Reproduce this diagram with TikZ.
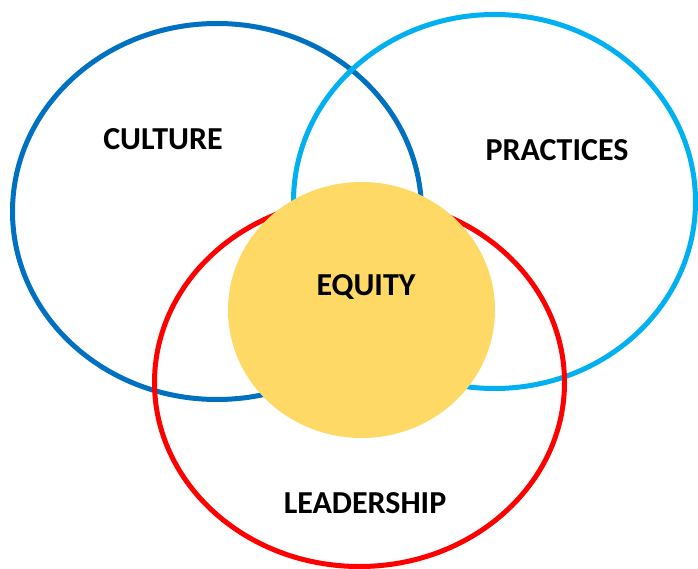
\documentclass[tikz,border=0pt]{standalone}
\usepackage{fontspec}
\setmainfont{Carlito}
\definecolor{cblue}{HTML}{0070C0}
\definecolor{clight}{HTML}{00B0F0}
\definecolor{cred}{HTML}{FF0000}
\definecolor{cyell}{HTML}{FFD966}
\begin{document}
\begin{tikzpicture}[x=1pt,y=-1pt,
  ring/.style={line width=5pt},
  lbl/.style={font=\fontsize{32}{36}\selectfont\bfseries, inner sep=0pt}]
\useasboundingbox (0,0) rectangle (698,569);
\draw[ring, cblue] (217,211.5) ellipse [x radius=204.5, y radius=188];
\draw[ring, clight] (494.5,201.5) ellipse [x radius=201, y radius=187];
\draw[ring, cred] (359.5,382.5) ellipse [x radius=205, y radius=184];
\fill[cyell] (361.5,310) ellipse [x radius=133.5, y radius=128];
\node[lbl] (culture) at (163,139) {CULTURE};
\node[lbl] (practices) at (557,150) {PRACTICES};
\node[lbl] (equity) at (366,287) {EQUITY};
\node[lbl] (leadership) at (365,503) {LEADERSHIP};
\end{tikzpicture}
\end{document}
